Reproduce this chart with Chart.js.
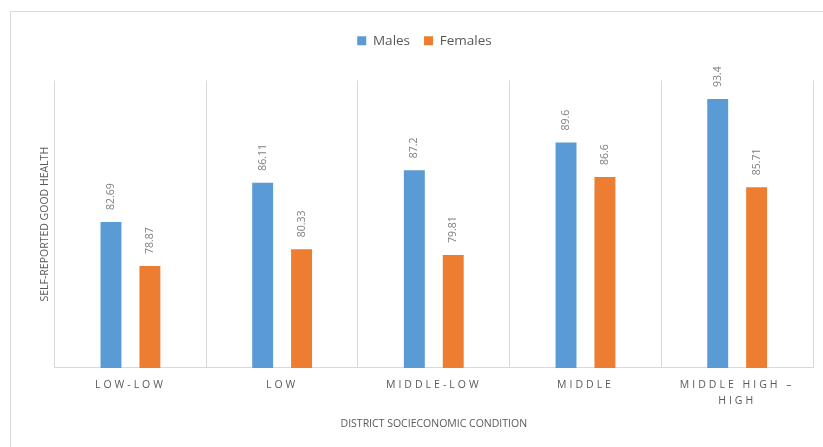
<!DOCTYPE html>
<html>
<head>
<meta charset="utf-8">
<script src="https://cdn.jsdelivr.net/npm/chart.js@4/dist/chart.umd.min.js"></script>
<style>
  html, body { margin: 0; padding: 0; background: #ffffff; }
  #wrap { position: relative; width: 823px; height: 447px; overflow: hidden; }
  #frame { position: absolute; left: 10px; top: 11px; width: 1000px; height: 1000px; border: 1px solid #d9d9d9; box-sizing: border-box; }
  #chart { position: absolute; left: 0; top: 0; }
</style>
</head>
<body>
<div id="wrap">
  <div id="frame"></div>
  <canvas id="chart" width="823" height="447"></canvas>
</div>
<script>
// Categories and series
const categories = ["LOW-LOW", "LOW", "MIDDLE-LOW", "MIDDLE", ["MIDDLE HIGH \u2013", "HIGH"]];
const seriesNames = ["Males", "Females"];
const males = [82.69, 86.11, 87.2, 89.6, 93.4];
const females = [78.87, 80.33, 79.81, 86.6, 85.71];
const yAxisTitle = "SELF-REPORTED GOOD HEALTH";
const xAxisTitle = "DISTRICT SOCIECONOMIC CONDITION";

const BLUE = "#5b9bd5";
const ORANGE = "#ed7d31";
const TEXT_GREY = "#595959";
const LABEL_GREY = "#808080";
const GRID_GREY = "#d9d9d9";
const TICK_LETTER_SPACING = 3;

Chart.defaults.font.family = "'Open Sans', sans-serif";

// Category axis whose tick labels are drawn with letter spacing
class SpacedCategoryScale extends Chart.CategoryScale {
  drawLabels(chartArea) {
    const ctx = this.ctx;
    ctx.save();
    ctx.letterSpacing = TICK_LETTER_SPACING + "px";
    super.drawLabels(chartArea);
    ctx.restore();
  }
}
SpacedCategoryScale.id = "spacedCategory";
SpacedCategoryScale.defaults = Chart.CategoryScale.defaults;
Chart.register(SpacedCategoryScale);

// Extra room between the legend and the plot
const legendGap = {
  id: "legendGap",
  beforeInit(chart) {
    const legend = chart.legend;
    if (!legend) return;
    const fit = legend.fit;
    legend.fit = function () {
      fit.call(this);
      this.height += 23;
    };
  }
};

// Vertical value labels above each bar
const barValueLabels = {
  id: "barValueLabels",
  afterDatasetsDraw(chart) {
    const ctx = chart.ctx;
    ctx.save();
    ctx.font = "10.5px 'Open Sans', sans-serif";
    ctx.fillStyle = LABEL_GREY;
    ctx.textAlign = "left";
    ctx.textBaseline = "middle";
    chart.data.datasets.forEach((ds, di) => {
      const meta = chart.getDatasetMeta(di);
      meta.data.forEach((bar, i) => {
        ctx.save();
        ctx.translate(bar.x, bar.y - 12);
        ctx.rotate(-Math.PI / 2);
        ctx.fillText(String(ds.data[i]), 0, 0);
        ctx.restore();
      });
    });
    ctx.restore();
  }
};

new Chart(document.getElementById("chart"), {
  type: "bar",
  data: {
    labels: categories,
    datasets: [
      { label: seriesNames[0], data: males, backgroundColor: BLUE, borderWidth: 0 },
      { label: seriesNames[1], data: females, backgroundColor: ORANGE, borderWidth: 0 }
    ]
  },
  options: {
    responsive: false,
    animation: false,
    devicePixelRatio: 1,
    layout: { padding: { left: 36, right: 10, top: 20, bottom: 13 } },
    datasets: {
      bar: { barPercentage: 0.538, categoryPercentage: 0.513 }
    },
    plugins: {
      legend: {
        position: "top",
        labels: {
          boxWidth: 9,
          boxHeight: 9,
          padding: 14,
          color: TEXT_GREY,
          font: { size: 13.5 }
        }
      },
      tooltip: { enabled: false }
    },
    scales: {
      x: {
        type: "spacedCategory",
        offset: true,
        grid: { offset: true, color: GRID_GREY, lineWidth: 1, drawTicks: false },
        border: { color: GRID_GREY, width: 1 },
        ticks: {
          color: TEXT_GREY,
          font: { size: 10.5, lineHeight: 1.5 },
          padding: 9,
          maxRotation: 0,
          autoSkip: false
        },
        title: {
          display: true,
          text: xAxisTitle,
          color: TEXT_GREY,
          font: { size: 10.5 },
          padding: { top: 0, bottom: 4 }
        }
      },
      y: {
        min: 70,
        max: 95,
        grid: { display: false, drawTicks: false },
        border: { display: false },
        ticks: { display: false },
        title: {
          display: true,
          text: yAxisTitle,
          color: TEXT_GREY,
          font: { size: 10.5 },
          padding: { top: 3, bottom: 3 }
        }
      }
    }
  },
  plugins: [legendGap, barValueLabels]
});
</script>
</body>
</html>
